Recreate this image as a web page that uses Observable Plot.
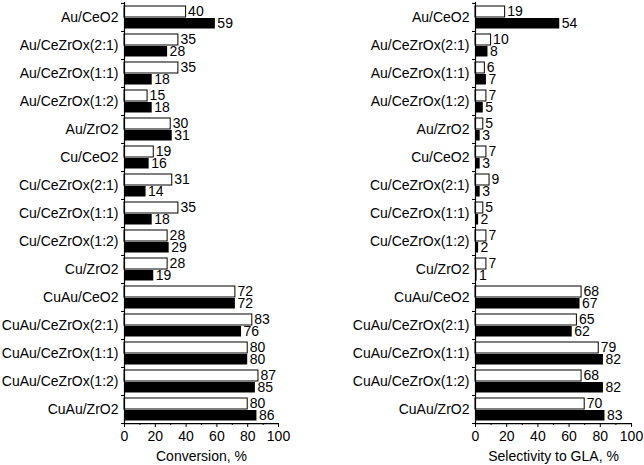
<!DOCTYPE html>
<html><head><meta charset="utf-8">
<script src="https://cdn.jsdelivr.net/npm/d3@7"></script>
<script src="https://cdn.jsdelivr.net/npm/@observablehq/plot@0.6"></script>
<style>
body{margin:0;background:#fff;}
#wrap{display:flex;width:644px;height:465px;}
</style></head><body><div id="wrap"></div>
<script>
const catalysts = ["Au/CeO2","Au/CeZrOx(2:1)","Au/CeZrOx(1:1)","Au/CeZrOx(1:2)","Au/ZrO2",
  "Cu/CeO2","Cu/CeZrOx(2:1)","Cu/CeZrOx(1:1)","Cu/CeZrOx(1:2)","Cu/ZrO2",
  "CuAu/CeO2","CuAu/CeZrOx(2:1)","CuAu/CeZrOx(1:1)","CuAu/CeZrOx(1:2)","CuAu/ZrO2"];
const conversionWhite = [40,35,35,15,30,19,31,35,28,28,72,83,80,87,80];
const conversionBlack = [59,28,18,18,31,16,14,18,29,19,72,76,80,85,86];
const selectivityWhite = [19,10,6,7,5,7,9,5,7,7,68,65,79,68,70];
const selectivityBlack = [54,8,7,5,3,3,3,2,2,1,67,62,82,82,83];
const xTicks = [0,20,40,60,80,100];
const xMinorTicks = [10,30,50,70,90];

function panel(label, whiteVals, blackVals, mL, mR) {
  const W = 322, H = 465, mT = 2, mB = 42;
  const bw = (H - mT - mB) / catalysts.length;
  const white = catalysts.map((c, i) => ({c, v: whiteVals[i]}));
  const black = catalysts.map((c, i) => ({c, v: blackVals[i]}));
  return Plot.plot({
    width: W, height: H, marginLeft: mL, marginRight: mR, marginTop: mT, marginBottom: mB,
    style: {fontFamily: "'Liberation Sans', Arial, sans-serif", fontSize: "14px", color: "black", background: "white", overflow: "visible"},
    x: {domain: [0, 100]},
    y: {domain: catalysts, padding: 0},
    marks: [
      Plot.barX(white, {x: "v", y: "c", fill: "white", stroke: "black", strokeWidth: 1, insetTop: 3, insetBottom: 14}),
      Plot.barX(black, {x: "v", y: "c", fill: "black", insetTop: 15, insetBottom: 2.5}),
      Plot.text(white, {x: "v", y: "c", text: d => String(d.v), dx: 2, dy: -5.5, textAnchor: "start", fill: "black", fontSize: 14}),
      Plot.text(black, {x: "v", y: "c", text: d => String(d.v), dx: 2, dy: 6.5, textAnchor: "start", fill: "black", fontSize: 14}),
      Plot.ruleX([0], {stroke: "black", strokeWidth: 1.2}),
      Plot.ruleY([catalysts[catalysts.length - 1]], {dy: bw / 2, stroke: "black", strokeWidth: 1.2}),
      Plot.axisY({tickSize: 0, tickPadding: 6, label: null, fontSize: 14}),
      Plot.axisY({tickSize: 3, dy: -bw / 2, tickFormat: () => "", label: null}),
      Plot.axisY({tickSize: 3, dy: bw / 2, tickFormat: () => "", label: null}),
      Plot.axisX(xTicks, {tickSize: 4, tickPadding: 4, label, labelAnchor: "center", labelOffset: 37, labelArrow: "none", fontSize: 14}),
      Plot.axisX(xMinorTicks, {tickSize: 2, tickFormat: () => "", label: null})
    ]
  });
}

const wrap = document.getElementById("wrap");
wrap.appendChild(panel("Conversion, %", conversionWhite, conversionBlack, 124, 44));
wrap.appendChild(panel("Selectivity to GLA, %", selectivityWhite, selectivityBlack, 153, 13));
</script>
</body></html>
